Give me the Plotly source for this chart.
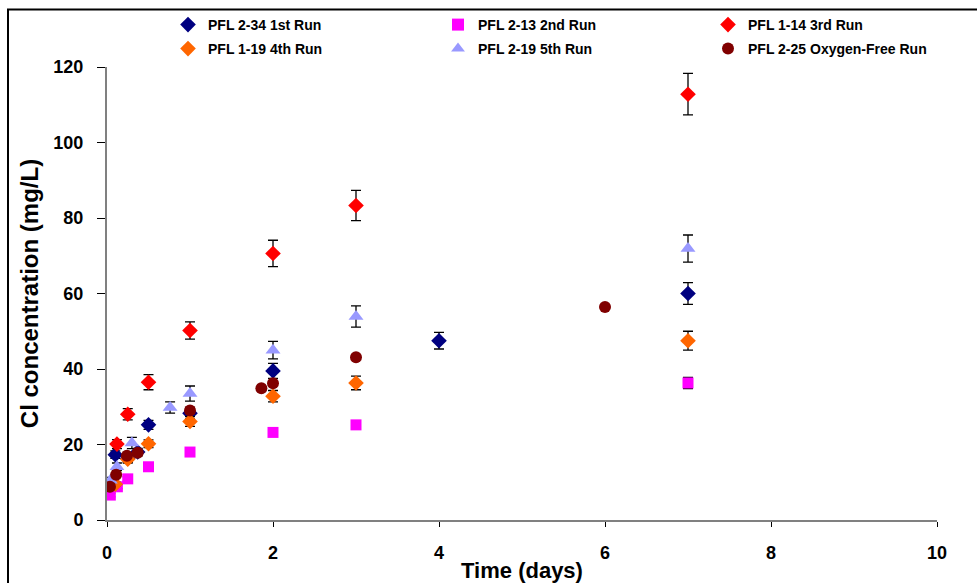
import plotly.graph_objects as go

# 1st run (navy diamonds)
run1_x = [0.1, 0.25, 0.37, 0.5, 1, 2, 4, 7]
run1_y = [17.3, 16.3, 18.0, 25.2, 28.3, 39.5, 47.5, 60.0]
run1_e = [1.0, 1.0, 1.0, 1.2, 1.5, 2.0, 2.2, 2.9]

# 2nd run (magenta squares)
run2_x = [0.04, 0.125, 0.25, 0.5, 1, 2, 3, 7]
run2_y = [6.6, 8.8, 10.9, 14.1, 18.0, 23.2, 25.2, 36.3]
run2_e = [0.5, 0.5, 0.6, 0.7, 0.8, 1.0, 1.0, 1.5]

# 3rd run (red diamonds)
run3_x = [0.12, 0.25, 0.5, 1, 2, 3, 7]
run3_y = [20.1, 28.0, 36.5, 50.2, 70.6, 83.3, 112.8]
run3_e = [1.2, 1.5, 2.0, 2.3, 3.5, 4.0, 5.5]

# 4th run (orange diamonds)
run4_x = [0.1, 0.25, 0.5, 1, 2, 3, 7]
run4_y = [9.5, 16.1, 20.2, 26.1, 32.8, 36.3, 47.5]
run4_e = [0.6, 1.0, 1.0, 1.3, 1.5, 1.8, 2.5]

# 5th run (lavender triangles)
run5_x = [0.04, 0.12, 0.3, 0.76, 1, 2, 3, 7]
run5_y = [10.5, 14.1, 20.4, 29.8, 33.5, 45.0, 53.9, 71.9]
run5_e = [0.8, 1.0, 1.5, 1.5, 2.0, 2.3, 2.8, 3.6]

# Oxygen-free run (dark red circles)
o2f_x = [0.036, 0.11, 0.24, 0.37, 1, 1.86, 2, 3, 6]
o2f_y = [8.8, 12.0, 17.0, 17.8, 29.0, 34.9, 36.2, 43.1, 56.4]

x_ticks = [0, 2, 4, 6, 8, 10]
y_ticks = [0, 20, 40, 60, 80, 100, 120]

FONT = "Liberation Sans, Arial, sans-serif"

W, H = 977, 583
L, R, T, B = 107, 40, 67, 63
PW, PH = W - L - R, H - T - B


def px_to_paper_x(px):
    return (px - L) / PW


def px_to_paper_y(py):
    return (H - B - py) / PH


def err(arr):
    return dict(type="data", array=arr, visible=True, color="black",
                thickness=1.3, width=5)


fig = go.Figure()
fig.add_trace(go.Scatter(x=run1_x, y=run1_y, mode="markers", name="PFL 2-34 1st Run",
                         marker=dict(symbol="diamond", size=12, color="#000080"),
                         error_y=err(run1_e), legend="legend"))
fig.add_trace(go.Scatter(x=run2_x, y=run2_y, mode="markers", name="PFL 2-13 2nd Run",
                         marker=dict(symbol="square", size=11, color="#FF00FF"),
                         error_y=err(run2_e), legend="legend2"))
fig.add_trace(go.Scatter(x=run3_x, y=run3_y, mode="markers", name="PFL 1-14 3rd Run",
                         marker=dict(symbol="diamond", size=12, color="#FF0000"),
                         error_y=err(run3_e), legend="legend3"))
fig.add_trace(go.Scatter(x=run4_x, y=run4_y, mode="markers", name="PFL 1-19 4th Run",
                         marker=dict(symbol="diamond", size=12, color="#FF6600"),
                         error_y=err(run4_e), legend="legend4"))
fig.add_trace(go.Scatter(x=run5_x, y=run5_y, mode="markers", name="PFL 2-19 5th Run",
                         marker=dict(symbol="triangle-up", size=13, color="#9999FF"),
                         error_y=err(run5_e), legend="legend5"))
fig.add_trace(go.Scatter(x=o2f_x, y=o2f_y, mode="markers", name="PFL 2-25 Oxygen-Free Run",
                         marker=dict(symbol="circle", size=12, color="#800000"),
                         legend="legend6"))

leg_common = dict(orientation="h", xanchor="left", yanchor="top",
                  font=dict(family=FONT, size=14, color="black", weight="bold"),
                  itemsizing="constant", itemwidth=30,
                  bgcolor="rgba(0,0,0,0)")

col_px = [168, 438, 708]
row_px = [9, 33]
legends = {}
names = ["legend", "legend2", "legend3", "legend4", "legend5", "legend6"]
for i, nm in enumerate(names):
    legends[nm] = dict(**leg_common, x=px_to_paper_x(col_px[i % 3]),
                       y=px_to_paper_y(row_px[i // 3]))

fig.update_layout(
    width=W, height=H,
    margin=dict(l=L, r=R, t=T, b=B, autoexpand=False),
    paper_bgcolor="white", plot_bgcolor="white",
    font=dict(family=FONT, color="black"),
    showlegend=True,
    **legends,
    xaxis=dict(range=[0, 10], tickvals=x_ticks, showgrid=False, zeroline=False,
               showline=True, linecolor="#808080", linewidth=1.5,
               ticks="outside", ticklen=5, tickcolor="black",
               ticklabelstandoff=11,
               tickfont=dict(family=FONT, size=18, color="black", weight="bold"),
               title=dict(text="Time (days)", standoff=0,
                          font=dict(family=FONT, size=22, color="black", weight="bold"))),
    yaxis=dict(range=[0, 120], tickvals=y_ticks, showgrid=False, zeroline=False,
               showline=True, linecolor="#808080", linewidth=2,
               ticks="outside", ticklen=8, tickcolor="black",
               ticklabelstandoff=10,
               tickfont=dict(family=FONT, size=18, color="black", weight="bold"),
               title=dict(text="Cl concentration (mg/L)", standoff=8,
                          font=dict(family=FONT, size=24, color="black", weight="bold"))),
)

# outer chart border (left and top edges visible)
fig.add_shape(type="rect", xref="paper", yref="paper",
              x0=px_to_paper_x(8), x1=px_to_paper_x(990),
              y0=px_to_paper_y(600), y1=px_to_paper_y(9.5),
              line=dict(color="black", width=2), layer="below")

fig.write_html("out.html")
